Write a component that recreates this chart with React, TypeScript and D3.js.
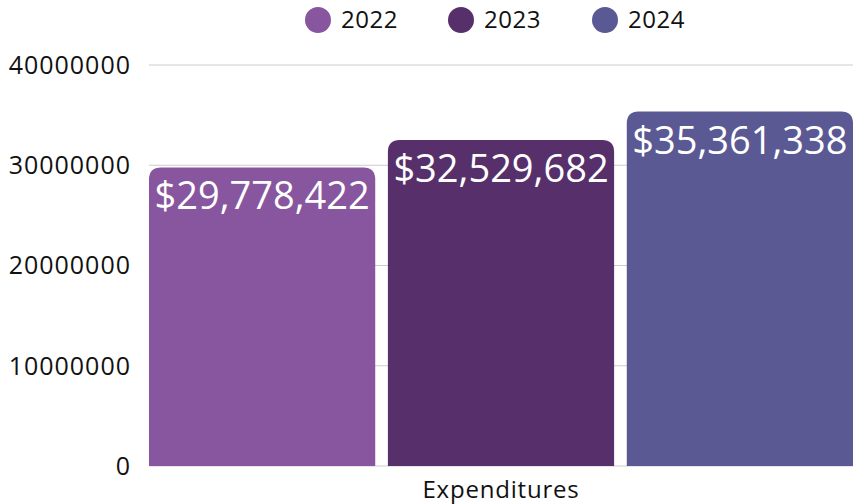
import React from "react";
import * as d3 from "d3";

const categories = ["Expenditures"];
const seriesNames = ["2022", "2023", "2024"];
const seriesValues = [29778422, 32529682, 35361338];
const seriesColors = ["#87569e", "#57306b", "#5b5994"];
const yTicks = [0, 10000000, 20000000, 30000000, 40000000];

const W = 854;
const H = 504;
const margin = { left: 149, right: 1, top: 65, bottom: 38 };
const FONT = "'Open Sans', 'DejaVu Sans', sans-serif";

function roundedTopRect(x: number, y: number, w: number, h: number, r: number) {
  const rr = Math.min(r, w / 2, h);
  return `M${x},${y + h}V${y + rr}Q${x},${y} ${x + rr},${y}H${x + w - rr}Q${x + w},${y} ${x + w},${y + rr}V${y + h}Z`;
}

export default function App() {
  const x0 = d3
    .scaleBand<string>()
    .domain(categories)
    .range([margin.left, W - margin.right])
    .padding(0);
  const x1 = d3
    .scaleBand<string>()
    .domain(seriesNames)
    .range([0, x0.bandwidth()])
    .paddingInner(0.053)
    .paddingOuter(0);
  const y = d3
    .scaleLinear()
    .domain([0, 40000000])
    .range([H - margin.bottom, margin.top]);
  const fmt = d3.format("$,");

  const legendX = [318, 461, 605];

  return (
    <svg
      width={W}
      height={H}
      style={{ position: "absolute", left: 0, top: 0, background: "#fff" }}
      fontFamily={FONT}
    >
      {yTicks.map((t) => (
        <g key={t}>
          <line x1={margin.left} x2={W - margin.right} y1={y(t)} y2={y(t)} stroke="#cccccc" strokeWidth={1} />
          <text x={131} y={y(t)} dy="0.35em" textAnchor="end" fontSize={25} letterSpacing={1} fill="#111">
            {String(t)}
          </text>
        </g>
      ))}
      {categories.map((c) => (
        <g key={c}>
          {seriesNames.map((s, i) => {
            const v = seriesValues[i];
            const bx = (x0(c) as number) + (x1(s) as number);
            const bw = x1.bandwidth();
            const by = y(v);
            const bh = y(0) - by;
            return (
              <g key={s}>
                <path d={roundedTopRect(bx, by, bw, bh, 12)} fill={seriesColors[i]} />
                <text
                  x={bx + bw / 2}
                  y={by + 42}
                  textAnchor="middle"
                  fontSize={38}
                  fill="#ffffff"
                >
                  {fmt(v)}
                </text>
              </g>
            );
          })}
          <text
            x={(x0(c) as number) + x0.bandwidth() / 2}
            y={498}
            textAnchor="middle"
            fontSize={24}
            letterSpacing={0.8}
            fill="#111"
          >
            {c}
          </text>
        </g>
      ))}
      {seriesNames.map((s, i) => (
        <g key={s}>
          <circle cx={legendX[i]} cy={20} r={13} fill={seriesColors[i]} />
          <text x={legendX[i] + 23} y={20} dy="0.35em" fontSize={24} letterSpacing={0.5} fill="#111">
            {s}
          </text>
        </g>
      ))}
    </svg>
  );
}
